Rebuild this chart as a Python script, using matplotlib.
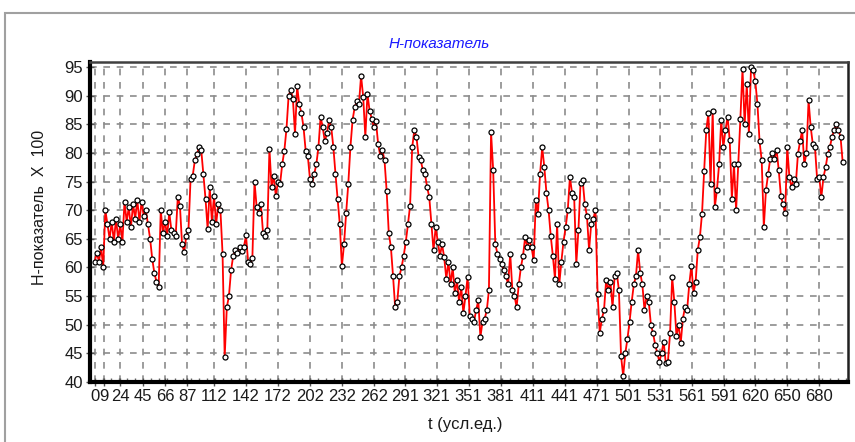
import numpy as np
import matplotlib
matplotlib.use("Agg")
import matplotlib.pyplot as plt
from matplotlib.patches import Rectangle

# Time axis (conventional units), sampled every 2 units
t = np.arange(0, 704, 2)

# H-indicator values (x100)
h = [
    61, 62.5, 61, 63.5, 60, 70, 67.5, 65, 68, 64.5,
    68.5, 65, 67.5, 64.5, 71.5, 68, 70.5, 67, 71, 68.5,
    71.7, 68, 71.5, 69, 70, 67.5, 65, 61.5, 59, 57.5,
    56.5, 70, 66, 68, 65.5, 69.6, 66.5, 66, 65.5, 72.3,
    70.8, 64, 62.7, 65.5, 66.5, 75.5, 76, 78.7, 79.8, 81,
    80.5, 76.3, 72, 66.7, 74, 68, 72.5, 67.6, 71, 70,
    62.4, 44.3, 53, 55, 59.5, 62, 63, 62.5, 63.5, 62.8,
    63.5, 65.6, 61, 60.5, 61.7, 75, 70.5, 69.5, 71, 66,
    65.5, 66.5, 80.7, 74, 76, 72.5, 75, 74.6, 78, 80.4,
    84.2, 90, 91, 89.5, 83.3, 91.7, 88.5, 87, 84.5, 80.4,
    79.5, 75.5, 74.6, 76.3, 78, 81, 86.3, 84.5, 82, 83.5,
    85.7, 84.5, 81, 76.3, 72, 67.6, 60.2, 64, 69.5, 74.6,
    81, 85.7, 88, 89, 88.5, 93.5, 89.8, 82.8, 90.3, 87.4,
    86, 84.5, 85.5, 81.6, 79.5, 80.5, 78.7, 73.4, 66, 63.5,
    58.5, 53, 54, 58.5, 60, 62, 64.5, 67.5, 70.8, 81,
    84, 82.8, 79.3, 78.7, 77, 76.3, 74, 72.3, 67.6, 63,
    67, 64.5, 62, 64, 61.8, 58, 61, 57, 60, 55.5,
    57.7, 54, 56.5, 52, 55, 58.3, 51.5, 51, 50.5, 52.5,
    54.2, 47.8, 50.5, 51, 52.5, 56, 83.6, 77, 64, 62.4,
    61.5, 60.5, 59.5, 58.5, 57, 62.4, 56, 55, 53, 57,
    60, 62, 65.3, 63.5, 64.7, 63.5, 61.2, 71.7, 69.4, 76.3,
    81, 77.5, 73, 70, 65.5, 62, 58, 67.6, 57, 61,
    64.5, 67, 70, 75.8, 73, 72.3, 60.6, 66.5, 74.8, 75.2,
    71, 69, 63, 67.6, 68.5, 70, 55.4, 48.5, 51, 52.5,
    57.7, 56, 57.5, 53, 58.5, 59, 56, 44.5, 41, 45,
    47.5, 50.5, 54, 57, 58.5, 63, 59, 57, 52.5, 55,
    54, 50, 48.5, 46.5, 45, 43.5, 45, 47, 43.2, 43.5,
    48.5, 58.3, 54, 48, 50, 46.7, 51, 53, 52.5, 57,
    60.3, 55.5, 57.5, 63, 65.3, 69.4, 76.9, 84, 87, 74.6,
    87.4, 70.5, 73.5, 78, 85.7, 81, 84, 86.3, 82.2, 72,
    78, 70, 78, 86, 94.7, 85, 92, 83.3, 95, 94.5,
    92.5, 88.6, 82, 78.7, 67, 73.5, 76.3, 79, 80, 79,
    80.5, 77, 72.5, 71, 69.5, 81, 75.8, 74, 75.5, 74.5,
    79.8, 82, 84, 78, 80, 89.2, 84.5, 81.5, 81, 75.5,
    75.8, 72.3, 75.8, 77.5, 79.8, 81, 82.8, 84, 85, 84,
    82.8, 78.4,
]

x_ticks = [0, 9, 24, 45, 66, 87, 112, 142, 172, 202, 232, 262, 291, 321,
           351, 381, 411, 441, 471, 501, 531, 561, 591, 620, 650, 680]
y_ticks = [40, 45, 50, 55, 60, 65, 70, 75, 80, 85, 90, 95]

plt.rcParams['font.family'] = ['Liberation Sans', 'DejaVu Sans']

fig = plt.figure(figsize=(8.55, 4.42), dpi=100)
fig.patch.set_facecolor('white')

# outer panel frame
fig.patches.append(Rectangle((5 / 855, -0.05), 1.0, 1 - 13 / 442 + 0.05,
                             transform=fig.transFigure, fill=False,
                             edgecolor='#a0a0a0', linewidth=1.5))

ax = fig.add_axes([90 / 855, 1 - 382 / 442, (848 - 90) / 855, (382 - 62) / 442])

ax.plot(t, h, color='#ff0000', linewidth=1.3, zorder=3,
        marker='o', markersize=3.6, markerfacecolor='white',
        markeredgecolor='black', markeredgewidth=0.9)

ax.set_xlim(-4.4, 707)
ax.set_ylim(39.95, 95.9)
ax.set_xticks(x_ticks)
ax.set_xticklabels([str(v) for v in x_ticks])
ax.set_yticks(y_ticks)
ax.set_yticklabels([str(v) for v in y_ticks])

ax.grid(True, color='#8c8c8c', linestyle=(0, (4, 4)), linewidth=1.2, zorder=1)

for side in ('left', 'bottom'):
    ax.spines[side].set_linewidth(3)
    ax.spines[side].set_color('black')
ax.spines['right'].set_linewidth(1.8)
ax.spines['right'].set_color('#202020')
ax.spines['top'].set_linewidth(1.8)
ax.spines['top'].set_color('#404040')

ax.tick_params(axis='both', which='major', direction='inout', length=6,
               width=1, color='#555555', labelsize=12, labelcolor='#1a1a1a', pad=2)
ax.xaxis.set_minor_locator(matplotlib.ticker.MultipleLocator(7.5))
ax.tick_params(axis='x', which='minor', direction='in', length=3, width=1,
               color='#666666')

fig.text(439 / 855, 1 - 44 / 442, 'H-показатель', color='#1a1aff',
         fontsize=11, style='italic', ha='center', va='center')
fig.text(465 / 855, 1 - 425 / 442, 't (усл.ед.)', color='#1a1a1a',
         fontsize=12, ha='center', va='center')
fig.text(40 / 855, 1 - 207 / 442, 'H-показатель  X  100', color='#1a1a1a',
         fontsize=11.5, rotation=90, ha='center', va='center')

fig.savefig('out.png', dpi=100, facecolor='white')
